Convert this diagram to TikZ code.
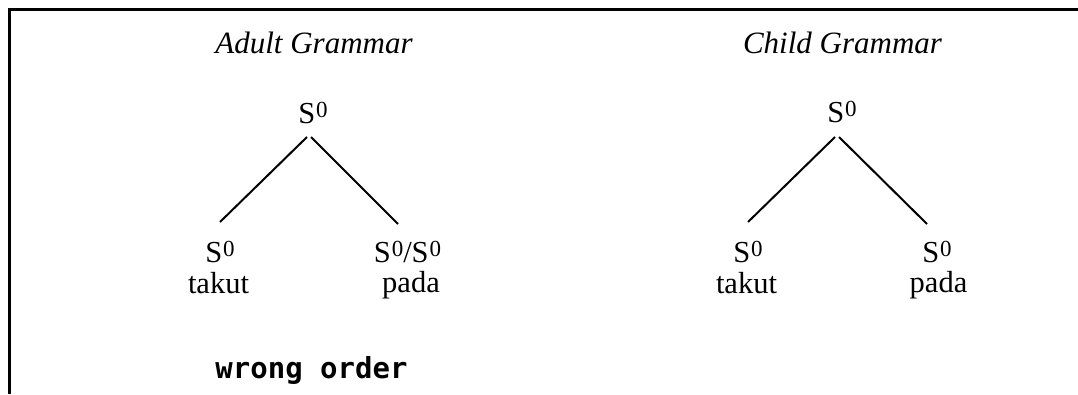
\documentclass[tikz,border=0pt]{standalone}
\usepackage{fontspec}
\setmainfont{Liberation Serif}
\newfontfamily\pixfont{DejaVu Sans Mono}
\newcommand{\szero}{S\kern1pt\raisebox{5.5pt}{\fontsize{23}{23}\selectfont 0}}
\begin{document}
\begin{tikzpicture}[x=1pt,y=-1pt,
  every node/.style={inner sep=0pt,anchor=base},
  title/.style={font=\fontsize{31}{36}\selectfont\itshape},
  cat/.style={font=\fontsize{30.5}{36}\selectfont},
  word/.style={font=\fontsize{30.5}{36}\selectfont},
  branch/.style={line width=2pt},
  frame/.style={line width=3pt},
  pix/.style={font=\pixfont\bfseries\fontsize{29}{30}\selectfont}]
\useasboundingbox (0,0) rectangle (1078,394);
\coordinate (fTR) at (1078,9.5);
\coordinate (fTL) at (9.5,9.5);
\coordinate (fBL) at (9.5,394);
\draw[frame] (fTR) -- (fTL) -- (fBL);
% titles
\node[title] (tA) at (314,53) {Adult Grammar};
\node[title] (tC) at (842.5,53) {Child Grammar};
% adult tree
\node[cat] (rL) at (313,123) {\szero};
\node[cat] (cL1) at (220,262) {\szero};
\node[cat] (cL2) at (407.5,262) {\szero/\szero};
\node[word] (wL1) at (218.5,293) {takut};
\node[word] (wL2) at (411,292) {pada};
\draw[branch] ([xshift=-6pt,yshift=-14pt]rL.base) -- ([yshift=40pt]cL1.base);
\draw[branch] ([xshift=-2pt,yshift=-14pt]rL.base) -- ([xshift=-9.5pt,yshift=38pt]cL2.base);
% child tree
\node[cat] (rR) at (842,122) {\szero};
\node[cat] (cR1) at (748,262) {\szero};
\node[cat] (cR2) at (937,262) {\szero};
\node[word] (wR1) at (746.5,293) {takut};
\node[word] (wR2) at (938.5,292) {pada};
\draw[branch] ([xshift=-7pt,yshift=-15pt]rR.base) -- ([yshift=40pt]cR1.base);
\draw[branch] ([xshift=-3pt,yshift=-15pt]rR.base) -- ([xshift=-10pt,yshift=38pt]cR2.base);
% note
\node[pix] (wo) at (311.5,378) {wrong order};
\end{tikzpicture}
\end{document}
